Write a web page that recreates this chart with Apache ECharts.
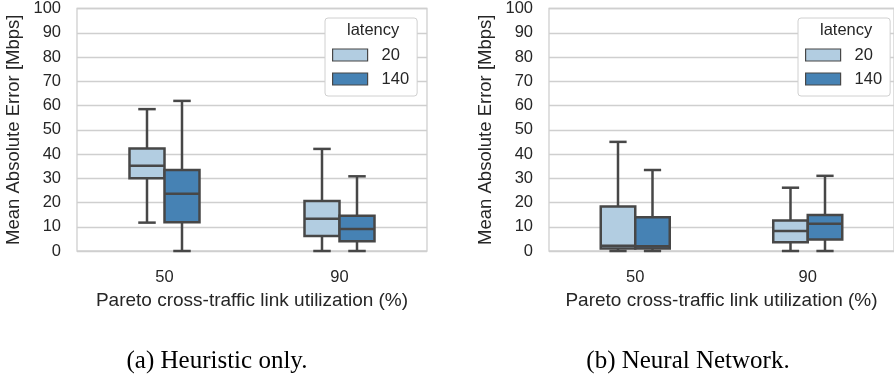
<!DOCTYPE html>
<html>
<head>
<meta charset="utf-8">
<script src="https://cdn.jsdelivr.net/npm/echarts@6/dist/echarts.min.js"></script>
<style>
  html, body { margin: 0; padding: 0; background: #ffffff; }
  #chart { width: 894px; height: 377px; }
</style>
</head>
<body>
<div id="chart"></div>
<script>
// Cross-traffic utilization levels (x categories) and latency groups (hue)
const categories = ['50', '90'];
const latencies = ['20', '140'];
const yTicks = [0, 10, 20, 30, 40, 50, 60, 70, 80, 90, 100];

// Box statistics per category: [min, Q1, median, Q3, max]
const heuristic20  = [[11.7, 30.0, 35.2, 42.3, 58.5], [0, 6.2, 13.3, 20.6, 42.1]];
const heuristic140 = [[0, 11.9, 23.6, 33.4, 61.9],    [0, 4.0, 9.1, 14.5, 30.8]];
const neural20     = [[0, 1.0, 2.2, 18.3, 45.0],      [0, 3.6, 8.2, 12.6, 26.1]];
const neural140    = [[0, 1.0, 2.0, 13.9, 33.4],      [0, 4.7, 11.2, 14.8, 31.0]];

const panelTitles = ['(a) Heuristic only.', '(b) Neural Network.'];
const yName = 'Mean Absolute Error [Mbps]';
const xName = 'Pareto cross-traffic link utilization (%)';

const colors = ['#b2cde1', '#4682b4'];
const lineColor = '#474747';
const textColor = '#262626';
const gridColor = '#cfcfcf';
const sans = 'Liberation Sans, Arial, sans-serif';

const gridLefts = [77, 549];
const legendLefts = [325, 798];
const captionCenters = [217, 688];

function toRows(stats) {
  return stats.map((s, i) => [i].concat(s));
}

// Draws one box (left or right half of the category band) with half-width caps
function makeRenderer(side) {
  return function (params, api) {
    const c = api.value(0);
    const x = api.coord([c, 0])[0];
    const band = api.size([1, 0])[0];
    const w = band * 0.2;
    const left = side < 0 ? x - w : x;
    const cx = left + w / 2;
    const yMin = api.coord([c, api.value(1)])[1];
    const yQ1 = api.coord([c, api.value(2)])[1];
    const yMed = api.coord([c, api.value(3)])[1];
    const yQ3 = api.coord([c, api.value(4)])[1];
    const yMax = api.coord([c, api.value(5)])[1];
    const ls = { stroke: lineColor, lineWidth: 2.5 };
    const capHalf = w / 4;
    return {
      type: 'group',
      children: [
        { type: 'line', shape: { x1: cx, y1: yQ3, x2: cx, y2: yMax }, style: ls },
        { type: 'line', shape: { x1: cx, y1: yQ1, x2: cx, y2: yMin }, style: ls },
        { type: 'line', shape: { x1: cx - capHalf, y1: yMax, x2: cx + capHalf, y2: yMax }, style: ls },
        { type: 'line', shape: { x1: cx - capHalf, y1: yMin, x2: cx + capHalf, y2: yMin }, style: ls },
        { type: 'rect', shape: { x: left, y: yQ3, width: w, height: yQ1 - yQ3 },
          style: { fill: colors[side < 0 ? 0 : 1], stroke: lineColor, lineWidth: 2.5 } },
        { type: 'line', shape: { x1: left, y1: yMed, x2: left + w, y2: yMed }, style: ls }
      ]
    };
  };
}

const panels = [[heuristic20, heuristic140], [neural20, neural140]];

const grids = [], xAxes = [], yAxes = [], series = [], legends = [], graphics = [];

panels.forEach((pair, p) => {
  grids.push({
    left: gridLefts[p], top: 8, width: 350, height: 243,
    show: true, borderColor: gridColor, borderWidth: 1.3, backgroundColor: '#ffffff'
  });
  xAxes.push({
    type: 'category', gridIndex: p, data: categories, boundaryGap: true,
    axisLine: { show: false }, axisTick: { show: false },
    axisLabel: { color: textColor, fontFamily: sans, fontSize: 16.5, margin: 18 },
    name: xName, nameLocation: 'middle', nameGap: 37,
    nameTextStyle: { color: textColor, fontFamily: sans, fontSize: 19 }
  });
  yAxes.push({
    type: 'value', gridIndex: p, min: yTicks[0], max: yTicks[yTicks.length - 1], interval: 10,
    axisLine: { show: false }, axisTick: { show: false },
    splitLine: { show: true, lineStyle: { color: gridColor, width: 1.3 } },
    axisLabel: { color: textColor, fontFamily: sans, fontSize: 16.5, margin: 16 },
    name: yName, nameLocation: 'middle', nameGap: 54,
    nameTextStyle: { color: textColor, fontFamily: sans, fontSize: 18.5 }
  });
  pair.forEach((stats, k) => {
    series.push({
      type: 'custom', name: latencies[k],
      xAxisIndex: p, yAxisIndex: p,
      itemStyle: { color: colors[k], borderColor: lineColor },
      encode: { x: 0, y: [1, 2, 3, 4, 5] },
      renderItem: makeRenderer(k === 0 ? -1 : 1),
      data: toRows(stats)
    });
  });
  legends.push({
    orient: 'vertical', left: legendLefts[p], top: 18,
    backgroundColor: '#ffffff', borderColor: '#d0d0d0', borderWidth: 1, borderRadius: 3,
    padding: [27, 8, 7, 7], itemGap: 4, itemWidth: 35, itemHeight: 12,
    textStyle: { color: textColor, fontFamily: sans, fontSize: 16.5, lineHeight: 20, padding: [0, 0, 0, 9] },
    data: latencies.map((name, k) => ({
      name: name, icon: 'rect',
      itemStyle: { color: colors[k], borderColor: lineColor, borderWidth: 1.2 }
    }))
  });
  graphics.push({
    type: 'text', left: legendLefts[p] + 47 - 25, top: 22, z: 100,
    style: { text: 'latency', fill: textColor, font: '16.5px ' + sans, textAlign: 'center', width: 50 }
  });
  graphics.push({
    type: 'text', x: captionCenters[p], y: 361,
    style: { text: panelTitles[p], fill: '#000000',
             font: '25px "Liberation Serif", "Times New Roman", serif',
             textAlign: 'center', textVerticalAlign: 'middle' }
  });
});

const chart = echarts.init(document.getElementById('chart'), null, { renderer: 'canvas' });
chart.setOption({
  animation: false,
  backgroundColor: '#ffffff',
  grid: grids,
  xAxis: xAxes,
  yAxis: yAxes,
  legend: legends,
  series: series,
  graphic: graphics
});
</script>
</body>
</html>
